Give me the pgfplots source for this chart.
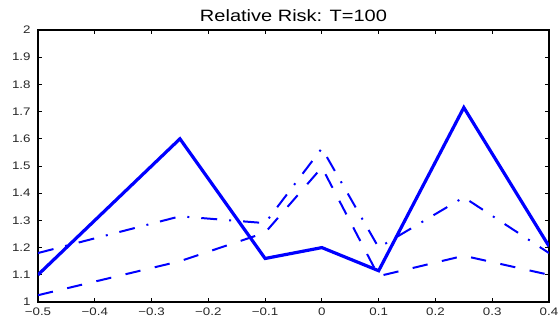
\documentclass[border=0pt]{standalone}
\usepackage{fontspec}
\setmainfont{Liberation Sans}[FakeStretch=1.22]
\usepackage{pgfplots}
\pgfplotsset{compat=1.18}
\begin{document}
\begin{tikzpicture}
\begin{axis}[
  name=ax,
  scale only axis,
  width=383.25pt, height=204pt,
  xmin=-0.5, xmax=0.4, ymin=1, ymax=2,
  xtick={-0.5,-0.4,-0.3,-0.2,-0.1,0,0.1,0.2,0.3,0.4},
  xticklabels={−0.5,−0.4,−0.3,−0.2,−0.1,0,0.1,0.2,0.3,0.4},
  ytick={1,1.1,1.2,1.3,1.4,1.5,1.6,1.7,1.8,1.9,2},
  yticklabels={1,1.1,1.2,1.3,1.4,1.5,1.6,1.7,1.8,1.9,2},
  tick align=inside,
  major tick length=3pt,
  axis line style={line width=1.2pt},
  tick style={black, line width=0.6pt},
  ticklabel style={font=\fontsize{8.2}{9}\selectfont, text=black!85},
  xticklabel style={yshift=-1pt},
  yticklabel style={xshift=-2pt},
  title={Relative Risk: T=100},
  title style={font=\fontsize{12.3}{14}\selectfont, at={(0.5,1)}, anchor=base, yshift=0.5pt, inner sep=0pt},
]
\addplot[blue, line width=2.4pt] coordinates {
(-0.5,1.10) (-0.25,1.60) (-0.1,1.16) (0,1.20) (0.1,1.115) (0.25,1.715) (0.4,1.205)};
\addplot[blue, line width=1.5pt, dash pattern=on 12pt off 9pt on 1.5pt off 9pt] coordinates {
(-0.5,1.18) (-0.25,1.315) (-0.1,1.29) (0,1.565) (0.1,1.20) (0.25,1.385) (0.4,1.18)};
\addplot[blue, line width=1.5pt, dash pattern=on 11.5pt off 11pt] coordinates {
(-0.5,1.025) (-0.25,1.15) (-0.1,1.255) (0,1.495) (0.1,1.095) (0.25,1.17) (0.4,1.10)};
\end{axis}
\pgfresetboundingbox
\path ([shift={(-28.5pt,-20.25pt)}]ax.south west) rectangle ([shift={(8.25pt,22.5pt)}]ax.north east);
\end{tikzpicture}
\end{document}
